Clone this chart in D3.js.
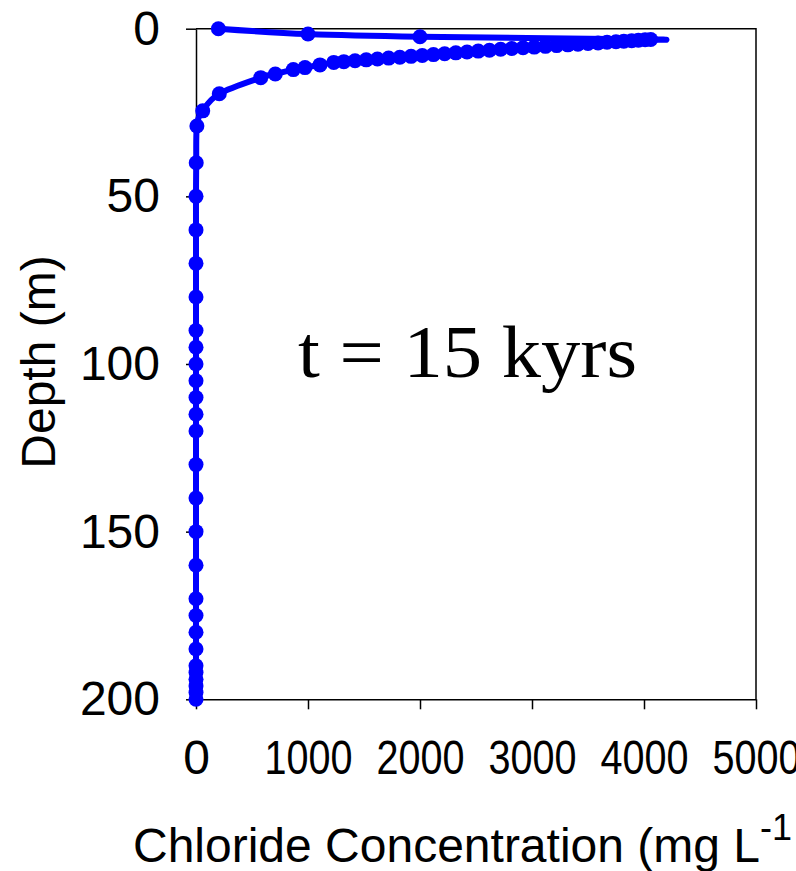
<!DOCTYPE html>
<html lang="en">
<head>
<meta charset="UTF-8">
<title>Chloride profile, t = 15 kyrs</title>
<script src="https://cdnjs.cloudflare.com/ajax/libs/d3/7.8.5/d3.min.js"></script>
<style>
    body { margin: 0; background: #fff; }
    svg { display: block; }
    .axis text { font-family: "Liberation Sans", Arial, sans-serif; fill: #000; }
    .axis path, .axis line { stroke: #000; stroke-width: 1.5px; }
    .title { font-family: "Liberation Sans", Arial, sans-serif; font-size: 48px; fill: #000; }
</style>
</head>
<body>
<div id="chart"></div>
<script>
    // depth (m) and chloride (mg/L), in the order the profile is drawn
    const depth = [0, 1.6, 2.4,
        3.2, 3.31, 3.44, 3.57, 3.72, 3.88, 4.05, 4.23, 4.43, 4.63, 4.82, 5.04, 5.26, 5.48, 5.7, 5.92,
        6.15, 6.41, 6.68, 6.94, 7.2, 7.46, 7.72, 7.99, 8.25, 8.51, 8.77, 9.03, 9.29, 9.56, 9.82, 10.05,
        10.8, 11.6, 12.2, 13.5, 14.6, 19.4, 24.5, 29,
        40, 50, 60, 70, 80, 90, 95, 100, 105, 110, 115, 120, 130, 140, 150,
        160, 170, 175, 180, 185, 190, 192, 194, 196, 198, 200];
    const chloride = [200, 1000, 2000,
        4060, 4010, 3950, 3890, 3820, 3750, 3670, 3590, 3500, 3410, 3320, 3220, 3120, 3020, 2920, 2820,
        2720, 2620, 2520, 2420, 2320, 2220, 2120, 2020, 1920, 1820, 1720, 1620, 1520, 1420, 1320, 1230,
        1107, 973, 869, 708, 578, 208, 60, 8,
        2, 0, 0, 0, 0, 0, 0, 0, 0, 0, 0, 0, 0, 0, 0,
        0, 0, 0, 0, 0, 0, 0, 0, 0, 0, 0];

    const xTicks = [0, 1000, 2000, 3000, 4000, 5000];
    const yTicks = [0, 50, 100, 150, 200];

    const W = 796, H = 871;
    const plot = { left: 196, right: 756, top: 28.7, bottom: 699.3 };

    const svg = d3.select("#chart").append("svg")
        .attr("width", W)
        .attr("height", H);

    const x = d3.scaleLinear().domain([0, 5000]).range([plot.left, plot.right]);
    const y = d3.scaleLinear().domain([0, 200]).range([plot.top, plot.bottom]);

    // frame (top and right sides)
    svg.append("path")
        .attr("d", `M${plot.left},${plot.top}H${plot.right}V${plot.bottom}`)
        .attr("fill", "none")
        .attr("stroke", "#000")
        .attr("stroke-width", 1.5);

    const xAxis = svg.append("g")
        .attr("class", "axis")
        .attr("transform", `translate(0,${plot.bottom})`)
        .call(d3.axisBottom(x).tickValues(xTicks).tickFormat(d3.format("d"))
            .tickSize(10).tickSizeOuter(0).tickPadding(31));
    xAxis.selectAll("text")
        .attr("font-size", 48)
        .attr("textLength", d => d === 0 ? null : 88)
        .attr("lengthAdjust", "spacingAndGlyphs");

    const yAxis = svg.append("g")
        .attr("class", "axis")
        .attr("transform", `translate(${plot.left},0)`)
        .call(d3.axisLeft(y).tickValues(yTicks).tickSize(10).tickSizeOuter(0).tickPadding(26));
    yAxis.selectAll("text").attr("font-size", 48);

    // profile line, smoothed like the spreadsheet curve
    const pts = depth.map((d, i) => [chloride[i], d]);
    const line = d3.line()
        .x(d => x(d[0]))
        .y(d => y(d[1]))
        .curve(d3.curveCardinal.tension(0));

    svg.append("path")
        .datum(pts)
        .attr("d", line)
        .attr("fill", "none")
        .attr("stroke", "#0000ff")
        .attr("stroke-width", 6)
        .attr("stroke-linecap", "round")
        .attr("stroke-linejoin", "round");

    svg.append("g").selectAll("circle")
        .data(pts)
        .join("circle")
        .attr("cx", d => x(d[0]))
        .attr("cy", d => y(d[1]))
        .attr("r", 7.5)
        .attr("fill", "#0000ff");

    // annotation
    svg.append("text")
        .attr("x", 298)
        .attr("y", 377)
        .attr("font-family", "'Liberation Serif', 'Times New Roman', serif")
        .attr("font-size", 74)
        .attr("textLength", 339)
        .attr("lengthAdjust", "spacingAndGlyphs")
        .text("t = 15 kyrs");

    // axis titles
    svg.append("text")
        .attr("class", "title")
        .attr("transform", `translate(55,362) rotate(-90)`)
        .attr("text-anchor", "middle")
        .text("Depth (m)");

    const xt = svg.append("text")
        .attr("class", "title")
        .attr("x", 133)
        .attr("y", 862);
    xt.append("tspan").text("Chloride Concentration (mg L");
    xt.append("tspan").attr("dy", -22).attr("font-size", 36).text("-1");
</script>
</body>
</html>
